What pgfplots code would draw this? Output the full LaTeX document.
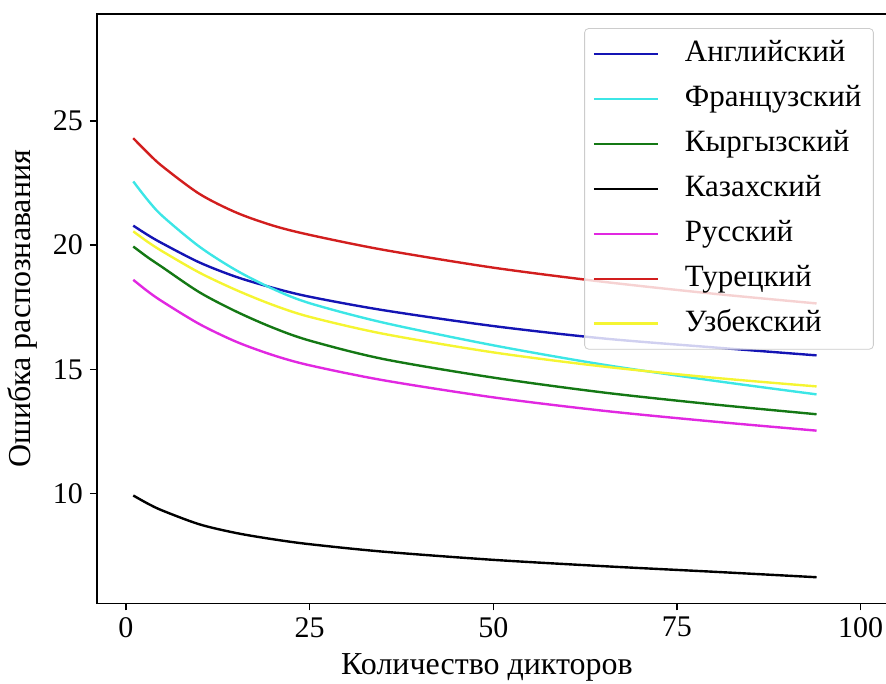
\documentclass[border=0pt]{standalone}
\usepackage{fontspec}
\setmainfont{Liberation Serif}
\usepackage{pgfplots}
\usepackage{pgfplotstable}
\pgfplotsset{compat=1.18}

% x = number of speakers; columns = recognition error per language
\pgfplotstableread{
x   en    fr     ky     kk    ru     tr     uz
1   20.78 22.56  19.94  9.92  18.60  24.30  20.55
3   20.40 21.80  19.50  9.59  18.13  23.70  20.12
5   20.06 21.16  19.10  9.31  17.72  23.16  19.74
10  19.30 19.935 18.10  8.76  16.82  22.06  18.89
15  18.72 18.985 17.325 8.41  16.11  21.31  18.19
20  18.28 18.235 16.675 8.16  15.57  20.785 17.59
25  17.92 17.66  16.155 7.96  15.16  20.41  17.11
35  17.38 16.88  15.415 7.66  14.56  19.81  16.43
50  16.74 15.965 14.665 7.33  13.87  19.09  15.68
65  16.24 15.185 14.065 7.075 13.33  18.52  15.11
80  15.88 14.54  13.585 6.85  12.895 18.04  14.66
94  15.56 13.99  13.19  6.63  12.53  17.65  14.31
}\err

\definecolor{cEn}{RGB}{20,20,180}
\definecolor{cFr}{RGB}{60,230,230}
\definecolor{cKy}{RGB}{20,120,20}
\definecolor{cKk}{RGB}{0,0,0}
\definecolor{cRu}{RGB}{225,40,225}
\definecolor{cTr}{RGB}{210,30,30}
\definecolor{cUz}{RGB}{245,245,50}

\begin{document}
\begin{tikzpicture}
\begin{axis}[
    scale only axis,
    width=400.5pt, height=295pt,
    xmin=-3.95, xmax=104.95,
    ymin=5.58, ymax=29.3,
    xtick={0,25,50,75,100},
    ytick={10,15,20,25},
    axis line style={line width=0.75pt},
    tick style={line width=0.75pt, black},
    tick align=outside,
    xtick pos=bottom, ytick pos=left,
    major tick length=3.5pt,
    ticklabel style={font=\fontsize{15}{17}\selectfont},
    /pgf/number format/assume math mode=true,
    xlabel={Количество дикторов},
    ylabel={Ошибка распознавания},
    label style={font=\fontsize{16}{18}\selectfont},
    xlabel style={yshift=-1pt, xshift=-5pt},
    ylabel style={yshift=1pt},
    legend cell align=left,
    legend image code/.code={\draw[#1, line width=1.2pt] (0pt,0pt) -- (32pt,0pt);},
    legend style={
        at={(0.971,0.976)}, anchor=north east,
        draw=black!20, rounded corners=2pt,
        fill=white, fill opacity=0.8, text opacity=1,
        font=\fontsize{15.5}{18}\selectfont,
        nodes={inner sep=2pt, text height=10.5pt, text depth=3pt},
        row sep=5pt,
        inner xsep=4pt, inner ysep=4pt,
        /tikz/every odd column/.append style={column sep=11pt},
    },
    every axis plot/.append style={line width=1.2pt, smooth},
]
\addplot[cEn] table[x=x, y=en] {\err};
\addlegendentry{Английский}
\addplot[cFr] table[x=x, y=fr] {\err};
\addlegendentry{Французский}
\addplot[cKy] table[x=x, y=ky] {\err};
\addlegendentry{Кыргызский}
\addplot[cKk] table[x=x, y=kk] {\err};
\addlegendentry{Казахский}
\addplot[cRu] table[x=x, y=ru] {\err};
\addlegendentry{Русский}
\addplot[cTr] table[x=x, y=tr] {\err};
\addlegendentry{Турецкий}
\addplot[cUz] table[x=x, y=uz] {\err};
\addlegendentry{Узбекский}
\coordinate (LL) at (rel axis cs:0,0);
\coordinate (UL) at (rel axis cs:0,1);
\end{axis}
% the reference is cut off just before the right edge of the frame
\pgfresetboundingbox
\path[use as bounding box] ([xshift=-48.5pt, yshift=-40pt]LL) rectangle ([xshift=395pt, yshift=7pt]UL);
\end{tikzpicture}
\end{document}
